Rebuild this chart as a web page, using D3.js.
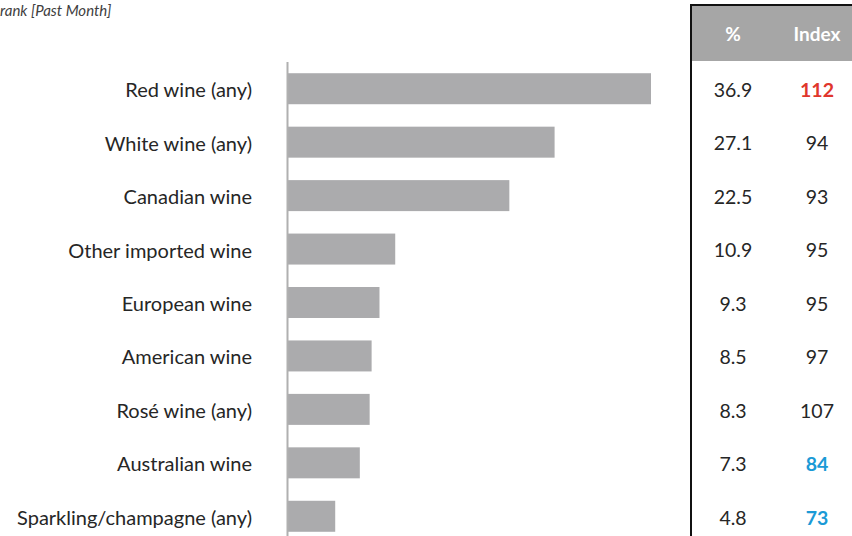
<!DOCTYPE html>
<html>
<head>
<meta charset="utf-8">
<script src="https://cdn.jsdelivr.net/npm/d3@7"></script>
<style>
  body { margin: 0; background: #fff; }
  svg { display: block; font-family: Lato, "Open Sans", sans-serif; }
</style>
</head>
<body>
<div id="chart"></div>
<script>
// data
const categories = ["Red wine (any)", "White wine (any)", "Canadian wine", "Other imported wine",
    "European wine", "American wine", "Rosé wine (any)", "Australian wine", "Sparkling/champagne (any)"];
const percents = [36.9, 27.1, 22.5, 10.9, 9.3, 8.5, 8.3, 7.3, 4.8];
const indexes = [112, 94, 93, 95, 95, 97, 107, 84, 73];
const pctLabels = ["36.9", "27.1", "22.5", "10.9", "9.3", "8.5", "8.3", "7.3", "4.8"];

const width = 852, height = 536;

const svg = d3.select("#chart").append("svg")
    .attr("width", width)
    .attr("height", height);

// title (cut off on the left in original)
svg.append("text")
    .attr("x", 0).attr("y", 16)
    .attr("font-size", 15)
    .attr("font-style", "italic")
    .attr("fill", "#404040")
    .text("rank [Past Month]");

// scales
const x = d3.scaleLinear().domain([0, 36.9]).range([288, 651]);
const y = d3.scaleBand().domain(categories).range([62, 543]).paddingInner(0.42).paddingOuter(0.21);

// bars
svg.selectAll(".bar")
    .data(categories)
    .enter().append("rect")
    .attr("class", "bar")
    .attr("x", x(0))
    .attr("y", d => y(d))
    .attr("width", (d, i) => x(percents[i]) - x(0))
    .attr("height", y.bandwidth())
    .attr("fill", "#ababad");

// axis line
svg.append("line")
    .attr("x1", 287.5).attr("x2", 287.5)
    .attr("y1", 62).attr("y2", height)
    .attr("stroke", "#b0b0b0")
    .attr("stroke-width", 2);

// category labels
svg.selectAll(".label")
    .data(categories)
    .enter().append("text")
    .attr("class", "label")
    .attr("x", 252)
    .attr("y", d => y(d) + y.bandwidth() / 2 + 1.5)
    .attr("dy", "0.35em")
    .attr("text-anchor", "end")
    .attr("font-size", 20)
    .attr("fill", "#262626")
    .text(d => d);

// == table == //
const colPct = 733, colIdx = 817;

svg.append("rect")
    .attr("x", 692).attr("y", 5)
    .attr("width", width - 692).attr("height", 56)
    .attr("fill", "#a6a6a6");

svg.append("line")
    .attr("x1", 691).attr("x2", width)
    .attr("y1", 5).attr("y2", 5)
    .attr("stroke", "#111").attr("stroke-width", 2);
svg.append("line")
    .attr("x1", 691).attr("x2", 691)
    .attr("y1", 4).attr("y2", height)
    .attr("stroke", "#111").attr("stroke-width", 2);

svg.append("text")
    .attr("x", colPct).attr("y", 34).attr("dy", "0.35em")
    .attr("text-anchor", "middle")
    .attr("font-size", 19).attr("font-weight", "bold")
    .attr("fill", "#fff")
    .text("%");
svg.append("text")
    .attr("x", colIdx).attr("y", 34).attr("dy", "0.35em")
    .attr("text-anchor", "middle")
    .attr("font-size", 19).attr("font-weight", "bold")
    .attr("fill", "#fff")
    .text("Index");

svg.selectAll(".pct")
    .data(categories)
    .enter().append("text")
    .attr("class", "pct")
    .attr("x", colPct)
    .attr("y", d => y(d) + y.bandwidth() / 2 + 1.5)
    .attr("dy", "0.35em")
    .attr("text-anchor", "middle")
    .attr("font-size", 19.5)
    .attr("fill", "#262626")
    .text((d, i) => pctLabels[i]);

function idxColor(v) {
    if (v >= 110) return "#e0362c";
    if (v <= 90) return "#1b9ad6";
    return "#262626";
}

svg.selectAll(".idx")
    .data(categories)
    .enter().append("text")
    .attr("class", "idx")
    .attr("x", colIdx)
    .attr("y", d => y(d) + y.bandwidth() / 2 + 1.5)
    .attr("dy", "0.35em")
    .attr("text-anchor", "middle")
    .attr("font-size", 19.5)
    .attr("font-weight", (d, i) => (indexes[i] >= 110 || indexes[i] <= 90) ? "bold" : "normal")
    .attr("fill", (d, i) => idxColor(indexes[i]))
    .text((d, i) => indexes[i]);
</script>
</body>
</html>
